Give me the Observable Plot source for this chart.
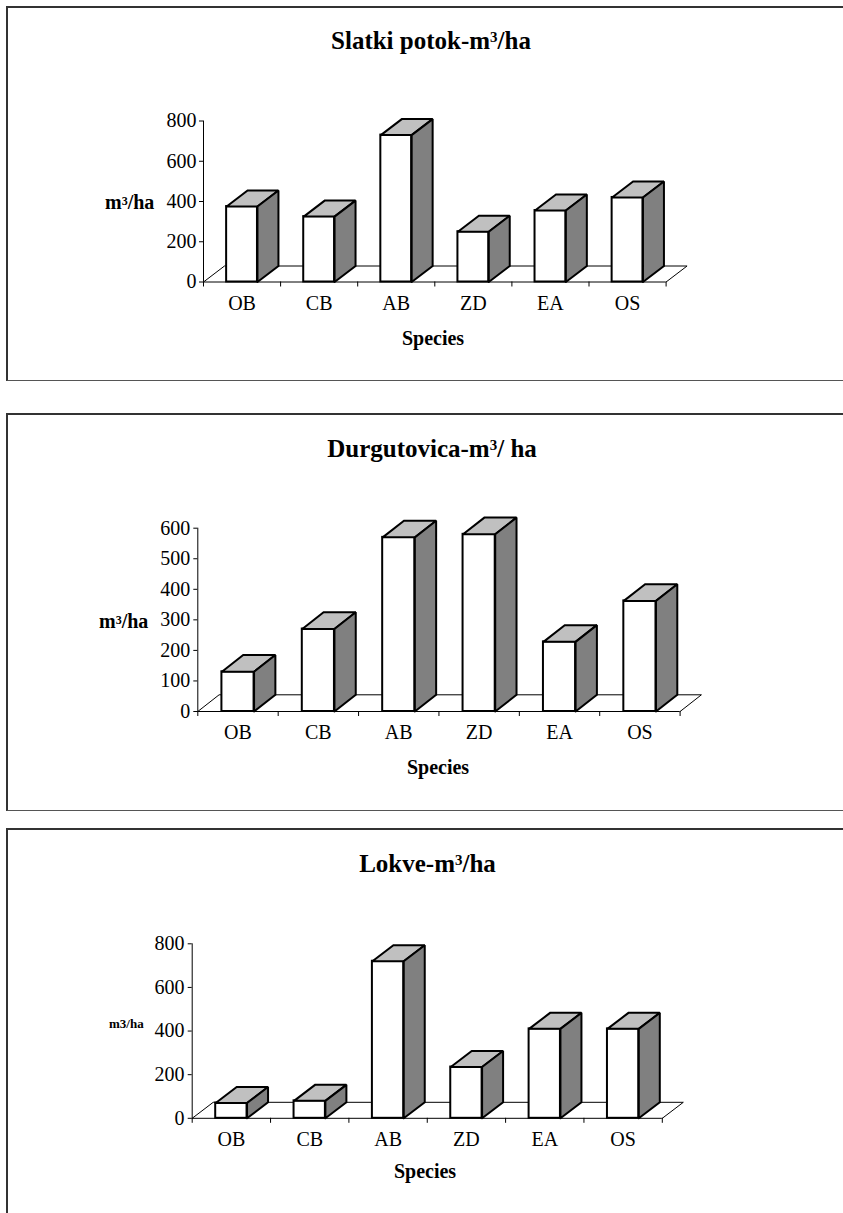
<!DOCTYPE html>
<html>
<head>
<meta charset="utf-8">
<script src="https://cdn.jsdelivr.net/npm/d3@7"></script>
<script src="https://cdn.jsdelivr.net/npm/@observablehq/plot@0.6"></script>
<style>
  html, body { margin: 0; padding: 0; background: #fff; }
  body { font-family: "Liberation Serif", "Times New Roman", serif; color: #000; }
  #page { position: relative; width: 843px; height: 1213px; overflow: hidden; background: #fff; }
  .panel { position: absolute; left: 6px; width: 860px; box-sizing: border-box;
           border-top: 2px solid #333; border-left: 2px solid #333; border-bottom: 1.5px solid #555; }
  .lbl { position: absolute; white-space: nowrap; line-height: 1; font-weight: bold; }
  .lbl sup { font-size: 0.6em; vertical-align: baseline; position: relative; line-height: 1; }
</style>
</head>
<body>
<div id="page"></div>
<script>
// ---------- data ----------
const categories = ["OB", "CB", "AB", "ZD", "EA", "OS"];
const slatkiValues = [375, 325, 730, 250, 355, 420];
const durgutovicaValues = [130, 270, 570, 580, 228, 362];
const lokveValues = [70, 80, 720, 235, 410, 410];
const slatkiTicks = [0, 200, 400, 600, 800];
const durgutovicaTicks = [0, 100, 200, 300, 400, 500, 600];
const lokveTicks = [0, 200, 400, 600, 800];
const titles = ["Slatki potok-m<sup style='top:-0.5em'>3</sup>/ha",
                "Durgutovica-m<sup style='top:-0.5em'>3</sup>/ ha",
                "Lokve-m<sup style='top:-0.5em'>3</sup>/ha"];
const yLabels = ["m<sup style='top:-0.35em'>3</sup>/ha",
                 "m<sup style='top:-0.35em'>3</sup>/ha",
                 "m3/ha"];
const xLabel = "Species";

const page = document.getElementById("page");

// ---------- panels (frames) ----------
[[6, 375], [413, 398], [828, 420]].forEach(([t, h]) => {
  const d = document.createElement("div");
  d.className = "panel";
  d.style.top = t + "px";
  d.style.height = h + "px";
  page.appendChild(d);
});

function label(html, x, baseline, size, anchor) {
  const el = document.createElement("div");
  el.className = "lbl";
  el.innerHTML = html;
  el.style.fontSize = size + "px";
  el.style.top = (baseline - 0.8375 * size) + "px";
  el.style.left = x + "px";
  if (anchor === "middle") el.style.transform = "translateX(-50%)";
  page.appendChild(el);
}

// ---------- 3D column chart ----------
function chart(values, ticks, g) {
  const n = categories.length;
  const ymax = ticks[ticks.length - 1];
  const plotH = g.height - g.mt - g.mb;
  const DY = g.depthPx * ymax / plotH;   // depth offset in value units
  const DX = g.dx;                        // depth offset in category units
  const rows = categories.map((c, i) => ({c, i, v: values[i]}));
  const poly = f => rows.flatMap(r => f(r).map(([x, y]) => ({c: r.c, x, y})));
  const topFace = poly(r => [[r.i + .3, r.v], [r.i + .7, r.v], [r.i + .7 + DX, r.v + DY], [r.i + .3 + DX, r.v + DY], [r.i + .3, r.v]]);
  const sideFace = poly(r => [[r.i + .7, 0], [r.i + .7, r.v], [r.i + .7 + DX, r.v + DY], [r.i + .7 + DX, DY], [r.i + .7, 0]]);
  const floor = [[0, 0], [DX, DY], [n + DX, DY], [n, 0]];
  const faceOpts = {x: "x", y: "y", z: "c", stroke: "black", strokeWidth: 2,
                    strokeLinejoin: "miter", strokeMiterlimit: 2, curve: "linear"};
  const svg = Plot.plot({
    width: 843, height: g.height,
    marginTop: g.mt, marginBottom: g.mb, marginLeft: g.ml, marginRight: g.mr,
    x: {type: "linear", domain: [0, n], axis: null},
    y: {type: "linear", domain: [0, ymax], axis: null},
    style: {fontFamily: "'Liberation Serif', 'Times New Roman', serif", fontSize: "20px", background: "transparent", overflow: "visible", color: "black"},
    marks: [
      Plot.line(floor, {x: d => d[0], y: d => d[1], stroke: "black", strokeWidth: 1, strokeLinejoin: "miter"}),
      Plot.ruleY([0], {stroke: "black", strokeWidth: 1}),
      Plot.ruleX([0], {stroke: "black", strokeWidth: 1}),
      Plot.rect(rows, {x1: d => d.i + .3, x2: d => d.i + .7, y1: 0, y2: "v", fill: "white", stroke: "black", strokeWidth: 2}),
      Plot.line(topFace, {...faceOpts, fill: "#c0c0c0"}),
      Plot.line(sideFace, {...faceOpts, fill: "#808080"}),
      Plot.axisY({ticks, tickSize: 4, tickPadding: g.ypad, label: null, fontSize: 20}),
      Plot.axisX({ticks: d3.range(n + 1), tickSize: 5, tickFormat: () => "", label: null}),
      Plot.axisX({ticks: d3.range(n).map(i => i + .5), tickSize: 0, tickPadding: g.xpad,
                  tickFormat: t => categories[Math.floor(t)], label: null, fontSize: 20})
    ]
  });
  svg.style.position = "absolute";
  svg.style.left = "0px";
  svg.style.top = g.top + "px";
  svg.style.background = "transparent";
  svg.style.maxWidth = "none";
  page.appendChild(svg);
}

// Panel 1
chart(slatkiValues, slatkiTicks, {top: 100, height: 220, mt: 20.5, mb: 38.5, ml: 203, mr: 177.4,
  depthPx: 16, dx: 0.272, ypad: 3, xpad: 14});
label(titles[0], 431, 49.3, 25, "middle");
label(yLabels[0], 105, 209, 20);
label(xLabel, 433, 345, 20, "middle");

// Panel 2
chart(durgutovicaValues, durgutovicaTicks, {top: 500, height: 260, mt: 27.7, mb: 49, ml: 197.3, mr: 163.4,
  depthPx: 16.7, dx: 0.265, ypad: 3.5, xpad: 13});
label(titles[1], 432, 457.3, 25, "middle");
label(yLabels[1], 99, 628, 20);
label(xLabel, 438, 774, 20, "middle");

// Panel 3
chart(lokveValues, lokveTicks, {top: 920, height: 240, mt: 23.3, mb: 42.2, ml: 191.7, mr: 181.2,
  depthPx: 16, dx: 0.268, ypad: 3.7, xpad: 13});
label(titles[2], 427.5, 872, 25, "middle");
label(yLabels[2], 109, 1028, 13);
label(xLabel, 425, 1178, 20, "middle");
</script>
</body>
</html>
